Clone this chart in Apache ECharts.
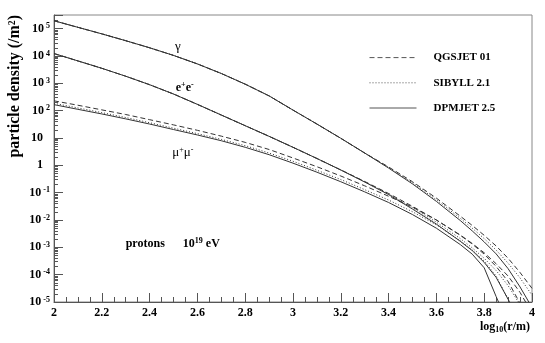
<!DOCTYPE html>
<html>
<head>
<meta charset="utf-8">
<script src="https://cdn.jsdelivr.net/npm/echarts@6/dist/echarts.min.js"></script>
<style>
html, body { margin: 0; padding: 0; background: #fff; }
#main { width: 545px; height: 343px; }
</style>
</head>
<body>
<div id="main"></div>
<script>
// log10(r/m)
const r = [2.0, 2.1, 2.2, 2.3, 2.4, 2.5, 2.6, 2.7, 2.8, 2.9, 3.0, 3.1, 3.2, 3.3, 3.4, 3.5, 3.6, 3.7, 3.75, 3.8, 3.85, 3.9, 3.95, 4.0];

// particle density (/m^2)
const gammaQgs = [1.95e5, 1.12e5, 6.46e4, 3.63e4, 2.0e4, 1.05e4, 5.13e3, 2.29e3, 933, 347, 105, 32.4, 9.77, 2.82, 0.871, 0.251, 0.0631, 0.0138, 6.31e-3, 2.75e-3, 1.12e-3, 3.98e-4, 1.20e-4, 3.16e-5];
const gammaSib = [1.95e5, 1.12e5, 6.46e4, 3.63e4, 2.0e4, 1.05e4, 5.13e3, 2.29e3, 933, 347, 105, 32.4, 9.77, 2.82, 0.832, 0.229, 0.0550, 0.0115, 5.01e-3, 2.09e-3, 7.94e-4, 2.63e-4, 7.59e-5, 1.78e-5];
const gammaDpm = [1.95e5, 1.12e5, 6.46e4, 3.63e4, 2.0e4, 1.05e4, 5.13e3, 2.29e3, 933, 347, 105, 32.4, 9.77, 2.82, 0.794, 0.209, 0.0479, 9.55e-3, 3.98e-3, 1.58e-3, 5.75e-4, 1.66e-4, 3.55e-5, 6.3e-6];

const elecQgs = [1.23e4, 6.61e3, 3.55e3, 1.82e3, 891, 407, 170, 69.2, 28.2, 11.5, 4.57, 1.78, 0.676, 0.257, 0.0933, 0.0316, 0.0100, 2.82e-3, 1.38e-3, 6.31e-4, 2.51e-4, 8.91e-5, 2.24e-5, 3.98e-6];
const elecSib = [1.23e4, 6.61e3, 3.55e3, 1.82e3, 891, 407, 170, 69.2, 28.2, 11.5, 4.57, 1.78, 0.676, 0.251, 0.0891, 0.0282, 8.32e-3, 2.09e-3, 9.55e-4, 3.98e-4, 1.41e-4, 3.98e-5, 7.94e-6, 1e-6];
const elecDpm = [1.23e4, 6.61e3, 3.55e3, 1.82e3, 891, 407, 170, 69.2, 28.2, 11.5, 4.57, 1.78, 0.676, 0.245, 0.0851, 0.0251, 7.08e-3, 1.66e-3, 7.59e-4, 2.82e-4, 7.94e-5, 1.26e-5, 1.58e-6, 3.16e-7];

const muonQgs = [229, 158, 107, 72.4, 46.8, 30.2, 19.1, 11.7, 6.92, 3.80, 1.86, 0.891, 0.407, 0.178, 0.0741, 0.0295, 0.0100, 2.75e-3, 1.32e-3, 5.62e-4, 2.0e-4, 5.62e-5, 8.91e-6, 1e-6];
const muonSib = [186, 126, 85.1, 56.2, 36.3, 22.9, 14.5, 8.91, 5.25, 2.82, 1.41, 0.661, 0.302, 0.129, 0.0537, 0.0200, 6.61e-3, 1.74e-3, 7.94e-4, 3.16e-4, 8.91e-5, 1.26e-5, 1.58e-6, 3.16e-7];
const muonDpm = [166, 112, 75.9, 50.1, 32.4, 20.4, 12.9, 7.94, 4.57, 2.45, 1.20, 0.562, 0.251, 0.107, 0.0437, 0.0158, 5.01e-3, 1.26e-3, 5.62e-4, 1.78e-4, 1.58e-5, 1.58e-6, 3.16e-7, 1e-7];

const models = ['QGSJET 01', 'SIBYLL 2.1', 'DPMJET 2.5'];
const xTicks = [2, 4, 0.2];
const yDecades = [-5, 5.5];

const serif = '"Liberation Serif", "DejaVu Serif", serif';
const dashFor = {
  'QGSJET 01': [5, 3],
  'SIBYLL 2.1': [1, 2],
  'DPMJET 2.5': 'solid'
};

function pairs(ys) {
  return r.map((x, i) => [x, ys[i]]);
}

function line(name, ys) {
  return {
    name: name,
    type: 'line',
    yAxisIndex: 0,
    data: pairs(ys),
    symbol: 'none',
    clip: true,
    silent: true,
    lineStyle: { color: '#333', width: 1, type: dashFor[name] },
    itemStyle: { color: '#333' }
  };
}

// ROOT style minor ticks 2..9 in each decade (log10 units)
const minorTicks = [];
for (let n = yDecades[0]; n < yDecades[1]; n++) {
  for (let k = 2; k <= 9; k++) {
    const v = n + Math.log10(k);
    if (v < yDecades[1]) minorTicks.push(v);
  }
}

const chart = echarts.init(document.getElementById('main'));
const option = {
  animation: false,
  backgroundColor: '#fff',
  grid: {
    left: 54, right: 13, top: 15, bottom: 41,
    show: true, borderColor: '#888', borderWidth: 1
  },
  legend: {
    orient: 'vertical',
    left: 364, top: 47,
    itemWidth: 47, itemHeight: 14, itemGap: 14,
    data: models,
    selectedMode: false,
    itemStyle: { opacity: 0, borderWidth: 0 },
    lineStyle: { width: 1, color: '#555' },
    textStyle: {
      fontFamily: serif, fontWeight: 'bold', fontSize: 11, color: '#000',
      padding: [0, 0, 0, 12]
    }
  },
  xAxis: {
    type: 'value',
    min: xTicks[0], max: xTicks[1], interval: xTicks[2],
    axisLine: { onZero: false, lineStyle: { color: '#555', width: 1 } },
    axisTick: { inside: true, length: 9, lineStyle: { color: '#555' } },
    minorTick: { show: true, splitNumber: 4, length: 5, lineStyle: { color: '#555' } },
    splitLine: { show: false },
    axisLabel: {
      margin: 5,
      fontFamily: serif, fontWeight: 'bold', fontSize: 12, color: '#000',
      formatter: v => String(Math.round(v * 10) / 10)
    }
  },
  yAxis: [
    {
      type: 'log',
      min: 1e-5, max: Math.pow(10, yDecades[1]),
      interval: 1,
      splitNumber: 10,
      axisLine: { show: true, onZero: false, lineStyle: { color: '#555', width: 1 } },
      axisTick: { show: true, inside: true, length: 9, lineStyle: { color: '#555' } },
      splitLine: { show: false },
      axisLabel: {
        margin: 4,
        formatter: function (v) {
          const e = Math.log10(v);
          const n = Math.round(e);
          if (Math.abs(e - n) > 1e-6) return '';
          if (n === 0) return '{p|1}';
          if (n === 1) return '{p|10}';
          return '{b|10}{s|' + n + '}';
        },
        rich: {
          b: { fontFamily: serif, fontWeight: 'bold', fontSize: 12, color: '#000', lineHeight: 13 },
          p: { fontFamily: serif, fontWeight: 'bold', fontSize: 12, color: '#000', lineHeight: 13, padding: [0, 7, 0, 0] },
          s: { fontFamily: serif, fontWeight: 'bold', fontSize: 8, color: '#000', lineHeight: 8, verticalAlign: 'top', padding: [0, 0, 0, 2] }
        }
      }
    },
    {
      type: 'value',
      min: yDecades[0], max: yDecades[1],
      position: 'left',
      axisLine: { show: false, onZero: false },
      axisLabel: { show: false },
      splitLine: { show: false },
      axisTick: { show: true, inside: true, length: 4, customValues: minorTicks, lineStyle: { color: '#555' } }
    }
  ],
  series: [
    line('QGSJET 01', gammaQgs),
    line('SIBYLL 2.1', gammaSib),
    line('DPMJET 2.5', gammaDpm),
    line('QGSJET 01', elecQgs),
    line('SIBYLL 2.1', elecSib),
    line('DPMJET 2.5', elecDpm),
    line('QGSJET 01', muonQgs),
    line('SIBYLL 2.1', muonSib),
    line('DPMJET 2.5', muonDpm)
  ]
};
chart.setOption(option);

// text labels, anchored in data coordinates
const labelAt = {
  gamma: [2.518, 2.19e4],
  elec: [2.547, 692],
  muon: [2.539, 2.88],
  beam: [2.30, 1.32e-3]
};
const px = k => chart.convertToPixel({ xAxisIndex: 0, yAxisIndex: 0 }, labelAt[k]);
const richTxt = {
  b: { fontFamily: serif, fontWeight: 'bold', fontSize: 12, fill: '#000', lineHeight: 14 },
  n: { fontFamily: serif, fontSize: 13, fill: '#000', lineHeight: 14 },
  sup: { fontFamily: serif, fontWeight: 'bold', fontSize: 8, fill: '#000', lineHeight: 8, verticalAlign: 'top' },
  supn: { fontFamily: serif, fontSize: 8, fill: '#000', lineHeight: 8, verticalAlign: 'top' },
  sub: { fontFamily: serif, fontWeight: 'bold', fontSize: 8, fill: '#000', lineHeight: 8, verticalAlign: 'bottom' }
};
function txt(pos, text, align) {
  return {
    type: 'text', x: pos[0], y: pos[1], silent: true,
    style: { text: text, rich: richTxt, align: align || 'center', verticalAlign: 'middle' }
  };
}

chart.setOption({
  graphic: [
    txt(px('gamma'), '{n|γ}'),
    txt(px('elec'), '{b|e}{sup|+}{b|e}{sup|-}'),
    txt(px('muon'), '{n|μ}{supn|+}{n|μ}{supn|-}'),
    txt(px('beam'), '{b|protons}{b|      10}{sup|19}{b| eV}', 'left'),
    {
      type: 'text', x: 530, y: 320, silent: true,
      style: { text: '{b|log}{sub|10}{b|(r/m)}', rich: richTxt, align: 'right', verticalAlign: 'top' }
    },
    {
      type: 'text', x: 15, y: 15, rotation: Math.PI / 2, silent: true,
      style: {
        text: 'particle density (/m²)',
        font: 'bold 16px "Liberation Serif", serif',
        fill: '#000', align: 'right', verticalAlign: 'middle'
      }
    }
  ]
});
</script>
</body>
</html>
